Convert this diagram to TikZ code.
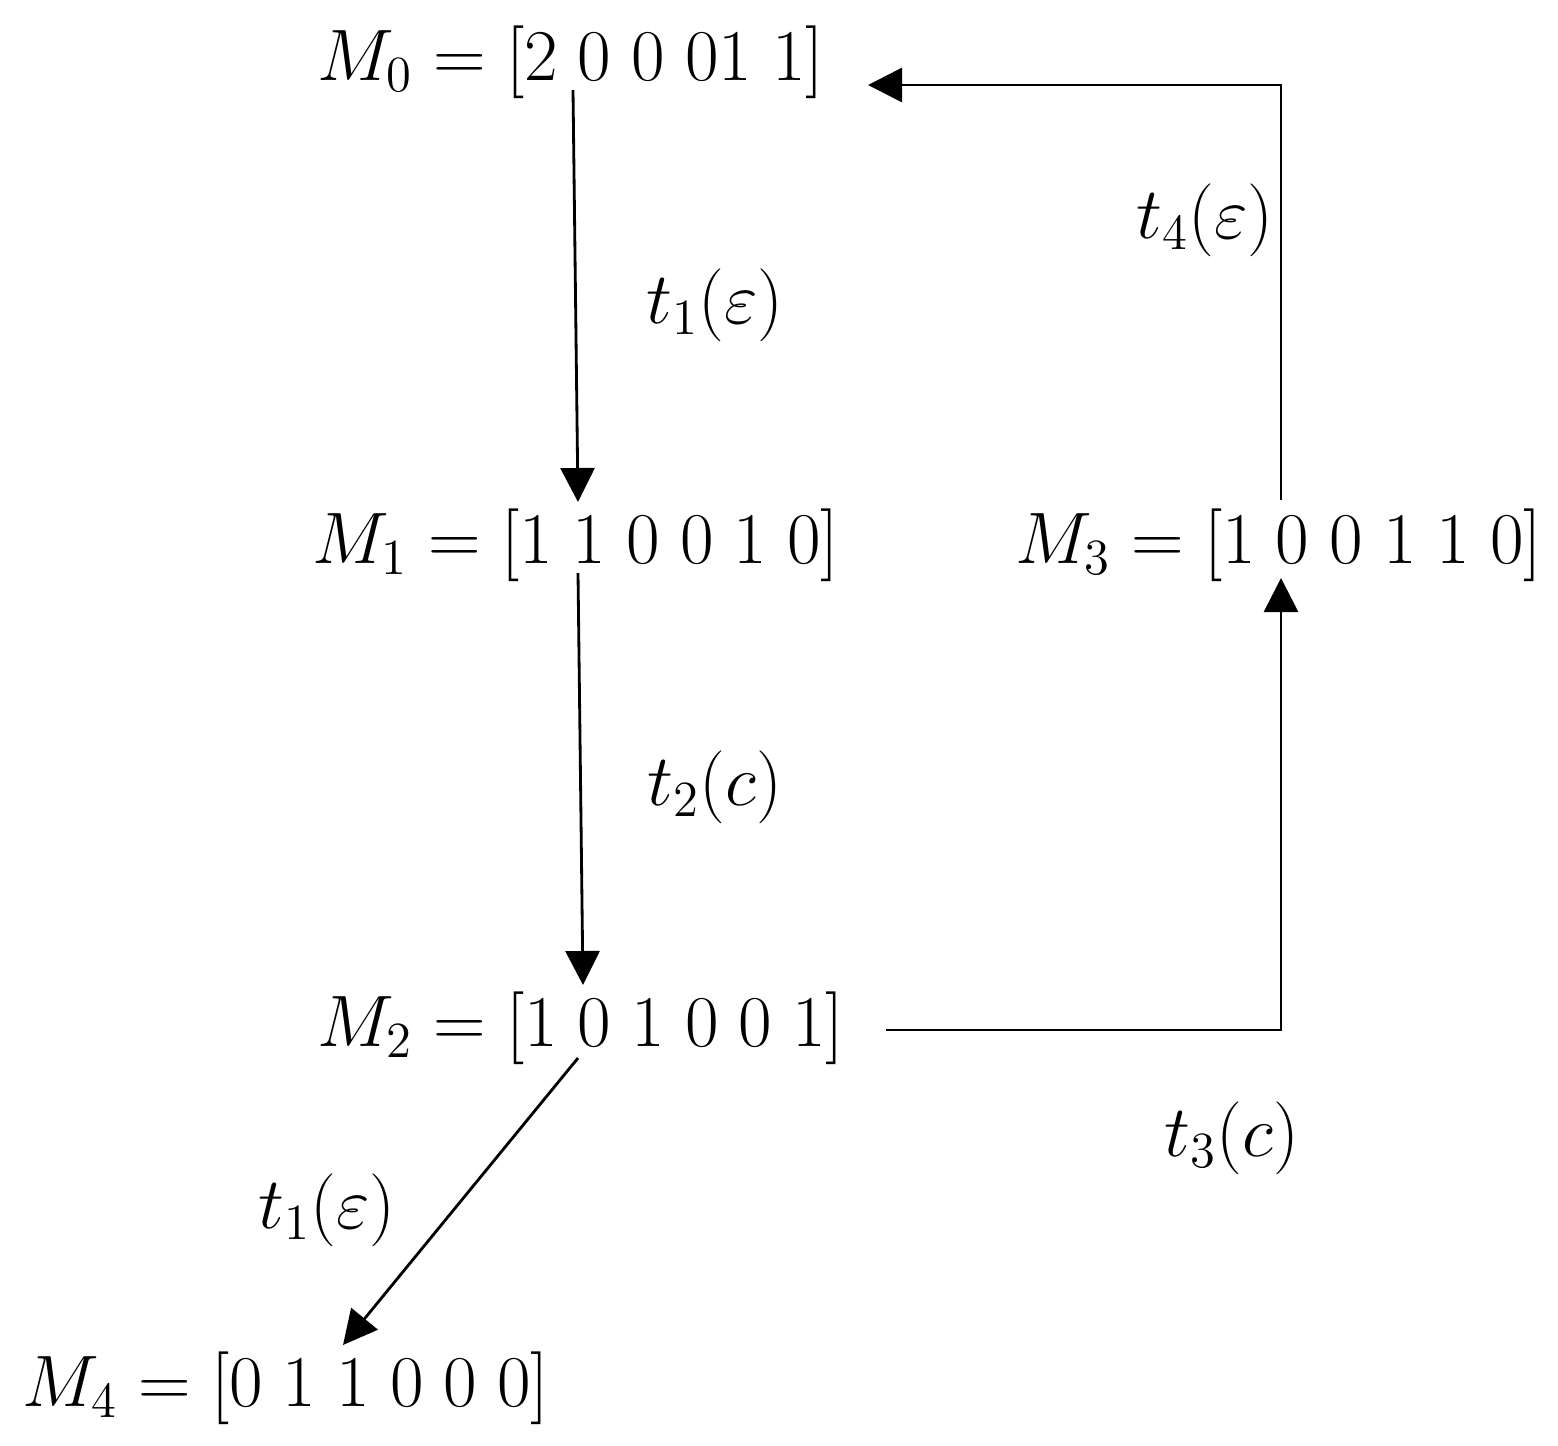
\documentclass[tikz,border=0pt]{standalone}
\usetikzlibrary{arrows.meta}
\begin{document}
\begin{tikzpicture}[x=0.01cm,y=-0.01cm,
  marking/.style={font=\fontsize{20}{24}\selectfont, inner sep=0pt},
  lbl/.style={font=\fontsize{20}{24}\selectfont, inner sep=0pt},
  conn/.style={line width=0.8pt, -{Triangle[length=0.34cm,width=0.34cm]}}]
\useasboundingbox (0,0) rectangle (1558,1445);
\node[marking] (m0) at (571,62) {$M_0 = [2\;0\;0\;01\;1]$};
\node[marking] (m1) at (576,545) {$M_1 = [1\;1\;0\;0\;1\;0]$};
\node[marking] (m2) at (581,1028) {$M_2 = [1\;0\;1\;0\;0\;1]$};
\node[marking] (m3) at (1279,545) {$M_3 = [1\;0\;0\;1\;1\;0]$};
\node[marking] (m4) at (286,1388) {$M_4 = [0\;1\;1\;0\;0\;0]$};
\coordinate (a0) at (573,90);
\coordinate (a1) at (578,502);
\coordinate (b0) at (578,573);
\coordinate (b1) at (583,985);
\coordinate (c0) at (578,1058);
\coordinate (c1) at (343,1345);
\coordinate (d0) at (886,1030);
\coordinate (d1) at (1281,578);
\coordinate (e0) at (1281,500);
\coordinate (e1) at (868,85);
\draw[conn] (a0) -- (a1);
\draw[conn] (b0) -- (b1);
\draw[conn] (c0) -- (c1);
\draw[conn] (d0) -| (d1);
\draw[conn] (e0) |- (e1);
\node[lbl] (l1) at (715,305) {$t_1(\varepsilon)$};
\node[lbl] (l2) at (715,787) {$t_2(c)$};
\node[lbl] (l4) at (1205,220) {$t_4(\varepsilon)$};
\node[lbl] (l3) at (1232,1138) {$t_3(c)$};
\node[lbl] (l5) at (327,1210) {$t_1(\varepsilon)$};
\end{tikzpicture}
\end{document}
